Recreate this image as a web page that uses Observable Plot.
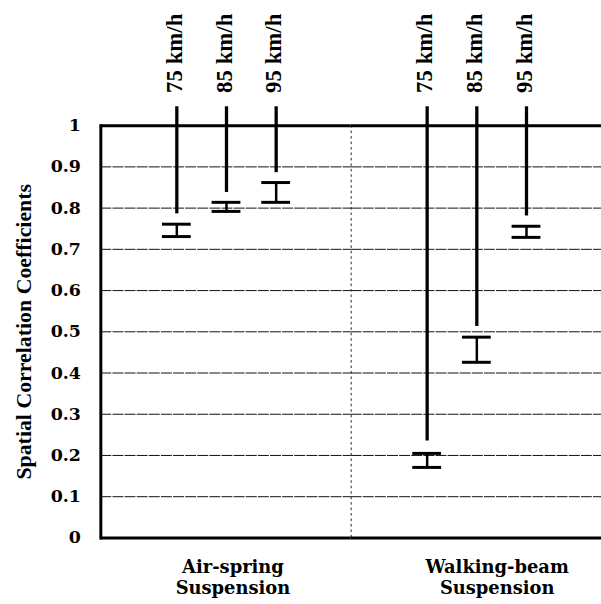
<!DOCTYPE html>
<html><head><meta charset="utf-8">
<script src="https://cdn.jsdelivr.net/npm/d3@7"></script>
<script src="https://cdn.jsdelivr.net/npm/@observablehq/plot@0.6"></script>
<style>html,body{margin:0;padding:0;background:#fff;overflow:hidden}</style>
</head><body><div id="chart"></div>
<script>
// ---- data ----
const groups = ["Air-spring", "Air-spring", "Air-spring", "Walking-beam", "Walking-beam", "Walking-beam"];
const speeds = ["75 km/h", "85 km/h", "95 km/h", "75 km/h", "85 km/h", "95 km/h"];
const lower = [0.731, 0.792, 0.814, 0.171, 0.426, 0.729];
const upper = [0.761, 0.814, 0.862, 0.205, 0.487, 0.756];
const leaderEnd = [0.786, 0.838, 0.886, 0.235, 0.513, 0.781];
const groupOrder = ["Air-spring", "Walking-beam"];
const groupLabels = ["Air-spring\nSuspension", "Walking-beam\nSuspension"];
const speedOrder = ["75 km/h", "85 km/h", "95 km/h"];
const yTicks = [0, 0.1, 0.2, 0.3, 0.4, 0.5, 0.6, 0.7, 0.8, 0.9, 1];
const gridTicks = [0.1, 0.2, 0.3, 0.4, 0.5, 0.6, 0.7, 0.8, 0.9];
const frameTicks = [0, 1];
const yDomain = [0, 1];
const yTitle = "Spatial Correlation Coefficients";

const records = groups.map((g, i) => ({
  group: g, speed: speeds[i], lower: lower[i], upper: upper[i], leader: leaderEnd[i], top: yDomain[1]
}));
const groupRows = groupOrder.map((g, i) => ({group: g, label: groupLabels[i]}));
const titleRow = [{group: groupOrder[0], t: yTitle}];

const serif = "'Liberation Serif', 'Times New Roman', serif";
const wideSerif = "'DejaVu Serif', serif";

const chart = Plot.plot({
  width: 605,
  height: 604,
  marginLeft: 101,
  marginRight: 0,
  marginTop: 126,
  marginBottom: 63,
  style: {background: "#fff", color: "#000", overflow: "visible"},
  fx: {domain: groupOrder, padding: 0, axis: null},
  x: {domain: speedOrder, paddingInner: 0.423, paddingOuter: 1.22, axis: null},
  y: {domain: yDomain, axis: null},
  marks: [
    Plot.ruleY(gridTicks, {stroke: "#111", strokeWidth: 1, strokeDasharray: "11 1.2"}),
    // dotted separator between the two suspension groups
    Plot.frame({anchor: "left", stroke: "#222", strokeWidth: 1, strokeDasharray: "1.5 4"}),
    // solid y-axis line across the whole plot
    Plot.frame({anchor: "left", facet: "super", stroke: "#000", strokeWidth: 3}),
    Plot.ruleY(frameTicks, {stroke: "#000", strokeWidth: 3}),
    Plot.axisY({
      ticks: yTicks, tickFormat: d => String(d), tickSize: 0, tickPadding: 20,
      fontSize: 17.5, fontFamily: wideSerif, fontWeight: "bold", label: null
    }),
    // leader lines up to the speed labels
    Plot.ruleX(records, {fx: "group", x: "speed", y1: "top", y2: "leader", insetTop: -19, stroke: "#000", strokeWidth: 3.3}),
    // error bars
    Plot.ruleX(records, {fx: "group", x: "speed", y1: "lower", y2: "upper", stroke: "#000", strokeWidth: 2.5}),
    Plot.tickY(records, {fx: "group", x: "speed", y: "lower", stroke: "#000", strokeWidth: 3}),
    Plot.tickY(records, {fx: "group", x: "speed", y: "upper", stroke: "#000", strokeWidth: 3}),
    // speed labels
    Plot.text(records, {
      fx: "group", x: "speed", text: "speed", frameAnchor: "top", dy: -33, dx: -11, rotate: -90,
      textAnchor: "start", fontSize: 23, fontFamily: serif, fontWeight: "bold", fill: "#000"
    }),
    // group labels
    Plot.text(groupRows.filter(d => d.group === groupOrder[0]), {
      fx: "group", text: "label", frameAnchor: "bottom", lineAnchor: "top", dy: 20, dx: 7,
      lineHeight: 1.17, fontSize: 18, fontFamily: wideSerif, fontWeight: "bold", fill: "#000"
    }),
    Plot.text(groupRows.filter(d => d.group === groupOrder[1]), {
      fx: "group", text: "label", frameAnchor: "bottom", lineAnchor: "top", dy: 20, dx: 21,
      lineHeight: 1.17, fontSize: 18, fontFamily: wideSerif, fontWeight: "bold", fill: "#000"
    }),
    // y title
    Plot.text(titleRow, {
      fx: "group", text: "t", frameAnchor: "left", rotate: -90, dx: -77, textAnchor: "middle",
      fontSize: 22, fontFamily: serif, fontWeight: "bold", fill: "#000"
    })
  ]
});
document.getElementById("chart").appendChild(chart);
</script>
</body></html>
